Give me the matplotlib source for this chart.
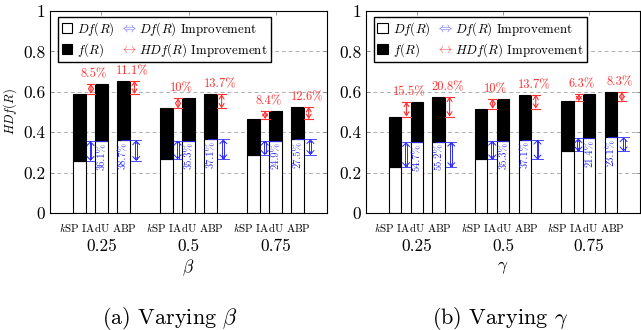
import numpy as np
import matplotlib
matplotlib.use('Agg')
import matplotlib.pyplot as plt
from matplotlib.patches import Patch
from matplotlib.lines import Line2D

plt.rcParams['font.family'] = 'cmr10'
plt.rcParams['mathtext.fontset'] = 'cm'
plt.rcParams['axes.formatter.use_mathtext'] = True

methods = ['$k$SP', 'IAdU', 'ABP']
group_labels = ['0.25', '0.5', '0.75']

# varying beta: total HDf(R) and the Df(R) part of each bar
beta_ksp_total = [0.590, 0.518, 0.465]
beta_iadu_total = [0.640, 0.568, 0.505]
beta_abp_total = [0.655, 0.588, 0.525]
beta_ksp_df = [0.258, 0.266, 0.287]
beta_iadu_df = [0.356, 0.358, 0.358]
beta_abp_df = [0.360, 0.365, 0.366]
beta_hdf_iadu = ['8.5%', '10%', '8.4%']
beta_hdf_abp = ['11.1%', '13.7%', '12.6%']
beta_df_iadu = ['36.1%', '35.3%', '24.9%']
beta_df_abp = ['38.7%', '37.1%', '27.5%']

# varying gamma
gamma_ksp_total = [0.477, 0.516, 0.553]
gamma_iadu_total = [0.551, 0.566, 0.589]
gamma_abp_total = [0.576, 0.586, 0.599]
gamma_ksp_df = [0.227, 0.265, 0.305]
gamma_iadu_df = [0.351, 0.358, 0.370]
gamma_abp_df = [0.353, 0.363, 0.375]
gamma_hdf_iadu = ['15.5%', '10%', '6.3%']
gamma_hdf_abp = ['20.8%', '13.7%', '8.3%']
gamma_df_iadu = ['54.7%', '35.3%', '21.4%']
gamma_df_abp = ['55.2%', '37.1%', '23.1%']

RED = '#ff3030'
BLUE = '#2a2aff'
offs = [-0.253, 0.0, 0.253]
bw = 0.146


def red_arrow(ax, x, y0, y1):
    ax.annotate('', xy=(x, y1), xytext=(x, y0),
                arrowprops=dict(arrowstyle='<->, head_length=0.35, head_width=0.22', color=RED,
                                lw=0.8, shrinkA=0, shrinkB=0, mutation_scale=8),
                zorder=5)
    for yy in (y0, y1):
        ax.plot([x - 0.05, x + 0.05], [yy, yy], color=RED, lw=0.8, zorder=5)


def blue_arrow(ax, x, y0, y1):
    # double-shafted arrow like the legend symbol
    h = 0.016
    dx = 0.011
    st = '->, head_length=0.3, head_width=0.28'
    ax.annotate('', xy=(x, y1), xytext=(x, y1 - h),
                arrowprops=dict(arrowstyle=st, color=BLUE, lw=0.7, shrinkA=0, shrinkB=0,
                                mutation_scale=9), zorder=5)
    ax.annotate('', xy=(x, y0), xytext=(x, y0 + h),
                arrowprops=dict(arrowstyle=st, color=BLUE, lw=0.7, shrinkA=0, shrinkB=0,
                                mutation_scale=9), zorder=5)
    for sx in (-dx, dx):
        ax.plot([x + sx, x + sx], [y0 + 0.008, y1 - 0.008], color=BLUE, lw=0.7, zorder=5)


def panel(ax, totals, dfs, hdf_i, hdf_a, df_i, df_a, xlabel):
    x = np.arange(len(group_labels))
    ax.set_axisbelow(True)
    for k in range(3):
        ax.bar(x + offs[k], dfs[k], bw, color='white', edgecolor='black', lw=0.8, zorder=2)
        ax.bar(x + offs[k], np.array(totals[k]) - np.array(dfs[k]), bw, bottom=dfs[k],
               color='black', edgecolor='black', lw=0.8, zorder=2)
    for g in range(len(x)):
        xg = x[g]
        ksp_t, iadu_t, abp_t = totals[0][g], totals[1][g], totals[2][g]
        ksp_d, iadu_d, abp_d = dfs[0][g], dfs[1][g], dfs[2][g]
        # HDf(R) improvement (red)
        red_arrow(ax, xg - 0.12, ksp_t, iadu_t)
        ax.annotate(hdf_i[g], (xg - 0.085, iadu_t), xytext=(0, 2.5), textcoords='offset points',
                    ha='center', va='bottom', color=RED, fontsize=9)
        red_arrow(ax, xg + 0.38, ksp_t, abp_t)
        ax.annotate(hdf_a[g], (xg + 0.36, abp_t), xytext=(0, 2.5), textcoords='offset points',
                    ha='center', va='bottom', color=RED, fontsize=9)
        # Df(R) improvement (blue)
        xa = xg - 0.125
        blue_arrow(ax, xa, ksp_d, iadu_d)
        ax.plot([xa - 0.045, xg + 0.06], [iadu_d, iadu_d], color=BLUE, lw=0.6, zorder=5)
        ax.plot([xa - 0.045, xa + 0.045], [ksp_d, ksp_d], color=BLUE, lw=0.6, zorder=5)
        ax.annotate(df_i[g], (xg + 0.008, iadu_d), xytext=(0, -1), textcoords='offset points',
                    ha='center', va='top', rotation=90, color=BLUE, fontsize=7.5, zorder=6)
        xb = xg + 0.40
        blue_arrow(ax, xb, ksp_d, abp_d)
        ax.plot([xg + 0.22, xb + 0.06], [abp_d, abp_d], color=BLUE, lw=0.6, zorder=5)
        ax.plot([xb - 0.06, xb + 0.06], [ksp_d, ksp_d], color=BLUE, lw=0.6, zorder=5)
        ax.annotate(df_a[g], (xg + 0.255, abp_d), xytext=(0, -1), textcoords='offset points',
                    ha='center', va='top', rotation=90, color=BLUE, fontsize=7.5, zorder=6)
        # bar names and group value under axis
        ax.annotate(' '.join(methods), (xg - 0.04, 0), xycoords=('data', 'axes fraction'),
                    xytext=(0, -10.8), textcoords='offset points',
                    ha='center', va='center', fontsize=7.9)
        ax.annotate(group_labels[g], (xg, 0), xycoords=('data', 'axes fraction'),
                    xytext=(0, -24), textcoords='offset points',
                    ha='center', va='center', fontsize=12.5)
    ax.annotate(xlabel, (0.5, 0), xycoords='axes fraction', xytext=(0, -39.5),
                textcoords='offset points', ha='center', va='center', fontsize=12.5)

    ax.set_xlim(-0.59, 2.59)
    ax.set_ylim(0, 1)
    ax.set_xticks(x)
    ax.set_xticklabels([])
    ax.set_yticks([0, 0.2, 0.4, 0.6, 0.8, 1])
    ax.set_yticklabels(['0', '0.2', '0.4', '0.6', '0.8', '1'], fontsize=12.5)
    ax.tick_params(axis='x', direction='in', top=True, length=3, width=0.6, color='#888888')
    ax.tick_params(axis='y', direction='in', right=True, length=3, width=0.6,
                   color='#888888', pad=3.5)
    ax.yaxis.grid(True, linestyle=(0, (4, 3)), color='#b0b0b0', lw=0.7)
    for s in ax.spines.values():
        s.set_linewidth(0.8)
    handles = [Patch(facecolor='white', edgecolor='black', lw=0.8),
               Patch(facecolor='black', edgecolor='black', lw=0.8),
               Line2D([], [], ls='none', marker=r'$\Leftrightarrow$', color='#6060ff',
                      markersize=9, markeredgewidth=0),
               Line2D([], [], ls='none', marker=r'$\leftrightarrow$', color='#ff5a5a',
                      markersize=9, markeredgewidth=0)]
    labels = ['$Df(R)$', '$f(R)$', '$Df(R)$ Improvement', '$HDf(R)$ Improvement']
    ax.legend(handles, labels, ncol=2, loc='upper left', bbox_to_anchor=(0.03, 0.97),
              fontsize=9.3, frameon=True, fancybox=False, edgecolor='black', framealpha=1,
              handlelength=0.8, handleheight=0.8, handletextpad=0.4, columnspacing=0.7,
              borderpad=0.25, labelspacing=0.25, borderaxespad=0)


fig = plt.figure(figsize=(6.41, 3.30), dpi=100)
ax1 = fig.add_axes([50 / 641, 117 / 330, 277 / 641, 202 / 330])
ax2 = fig.add_axes([366 / 641, 117 / 330, 274 / 641, 202 / 330])

panel(ax1, [beta_ksp_total, beta_iadu_total, beta_abp_total],
      [beta_ksp_df, beta_iadu_df, beta_abp_df],
      beta_hdf_iadu, beta_hdf_abp, beta_df_iadu, beta_df_abp, r'$\beta$')
panel(ax2, [gamma_ksp_total, gamma_iadu_total, gamma_abp_total],
      [gamma_ksp_df, gamma_iadu_df, gamma_abp_df],
      gamma_hdf_iadu, gamma_hdf_abp, gamma_df_iadu, gamma_df_abp, r'$\gamma$')
ax1.set_ylabel('$HDf(R)$', fontsize=9, labelpad=3)

fig.text(170 / 641, 12 / 330, r'(a) Varying $\beta$', ha='center', va='center', fontsize=16)
fig.text(500 / 641, 12 / 330, r'(b) Varying $\gamma$', ha='center', va='center', fontsize=16)

fig.savefig('out.png', dpi=100)
